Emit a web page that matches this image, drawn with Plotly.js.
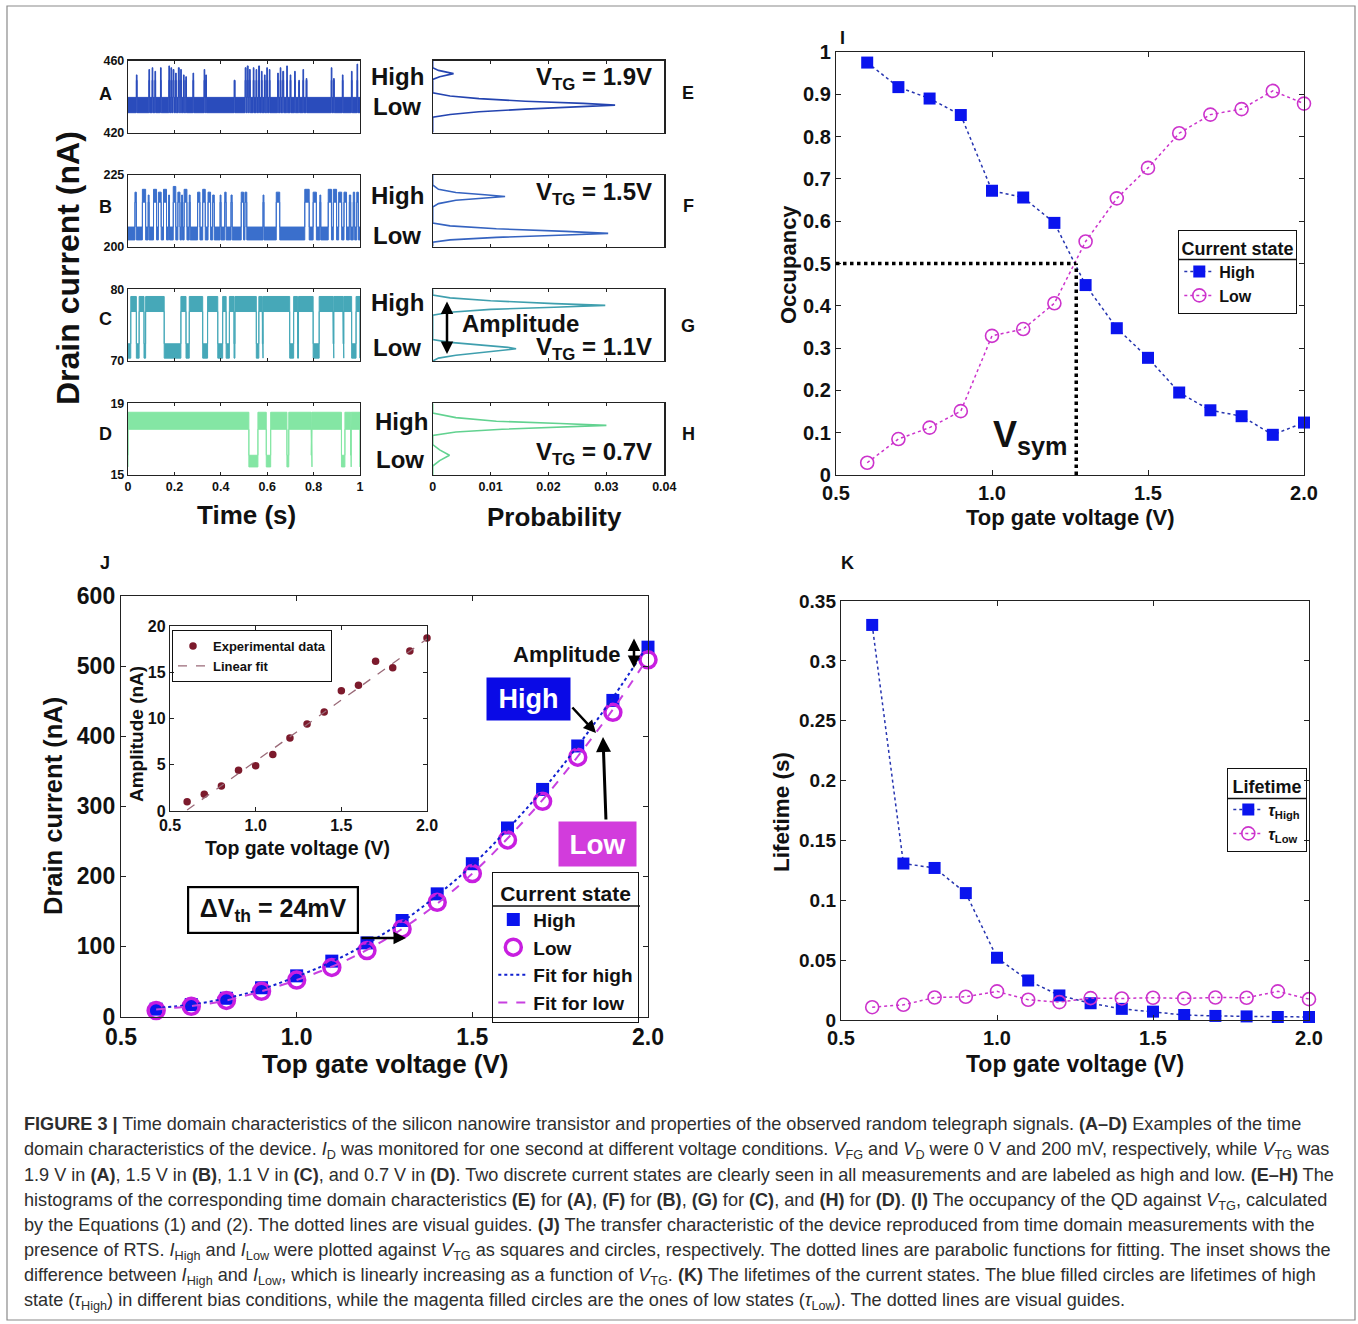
<!DOCTYPE html>
<html><head><meta charset="utf-8">
<script src="https://cdn.plot.ly/plotly-3.0.1.min.js"></script>
<style>html,body{margin:0;padding:0;background:#fff;} #chart{width:1358px;height:1324px;}</style>
</head><body><div id="chart"></div>
<script>
// ================= DATA =================
const vtg = [0.6,0.7,0.8,0.9,1.0,1.1,1.2,1.3,1.4,1.5,1.6,1.7,1.8,1.9,2.0];
// Panel I: occupancy
const occHigh = [0.975,0.917,0.890,0.851,0.672,0.656,0.596,0.449,0.347,0.277,0.195,0.153,0.139,0.095,0.124];
const occLow  = [0.029,0.085,0.112,0.151,0.329,0.345,0.406,0.552,0.654,0.726,0.808,0.852,0.865,0.908,0.878];
const vsym = 1.27;
// Panel J: drain current (nA)
const idHigh = [10.5,17,26,41,58,79,105,137,175,218,269,324,386,451,527];
const idLow  = [8.5,14.5,23,36,52,70,94,125,163,204,252,307,370,434,509];
const fitHigh = [12,17,26,39,57,78,104,135,173,216,267,323,386,455,530];
const fitLow  = [10,15,23,36,52,71,95,125,161,204,254,309,371,438,512];
// Inset: amplitude (nA)
const ampExp = [1.0,1.8,2.7,4.4,4.9,6.1,7.9,9.4,10.7,13.0,13.6,16.2,15.5,17.3,18.7];
const ampFitV = [0.6,2.0];
const ampFit  = [0.1,18.6];
// Panel K: lifetimes (s)
const tauHigh = [0.330,0.1307,0.127,0.106,0.052,0.033,0.0205,0.014,0.0093,0.007,0.0042,0.0034,0.003,0.0025,0.0025];
const tauLow  = [0.0107,0.0127,0.0188,0.0194,0.0239,0.0169,0.0149,0.0183,0.018,0.0186,0.018,0.0188,0.0186,0.0239,0.0174];

// Panels A-D: time traces, intervals spent in the high state (s)
const A_hiStart = [0.036,0.090,0.104,0.116,0.140,0.176,0.185,0.194,0.205,0.217,0.227,0.239,0.249,0.280,0.328,0.335,0.458,0.505,0.514,0.523,0.540,0.552,0.563,0.575,0.588,0.598,0.609,0.645,0.656,0.667,0.684,0.699,0.718,0.736,0.754,0.768,0.876,0.886,0.924,0.963,0.987];
const A_hiEnd   = [0.039,0.093,0.107,0.119,0.143,0.179,0.188,0.198,0.208,0.221,0.230,0.242,0.252,0.283,0.331,0.338,0.461,0.509,0.518,0.527,0.543,0.555,0.567,0.578,0.591,0.601,0.612,0.648,0.659,0.671,0.687,0.702,0.721,0.739,0.757,0.771,0.879,0.889,0.927,0.966,0.990];
const A_hiTop   = [452,455,456,454,456,457,456,455,453,456,455,452,451,453,455,452,449,456,457,455,456,455,457,454,452,456,455,453,456,454,457,452,454,448,455,450,456,450,452,454,458];
const A_lowBand = [431,439.5], A_highBand = [449,456];

const B_hiStart = [0.030,0.062,0.087,0.110,0.131,0.153,0.175,0.195,0.215,0.231,0.242,0.264,0.300,0.322,0.345,0.365,0.397,0.417,0.444,0.488,0.504,0.582,0.639,0.762,0.798,0.827,0.863,0.885,0.908,0.931,0.954,0.971,0.986];
const B_hiEnd   = [0.036,0.076,0.091,0.123,0.143,0.166,0.179,0.206,0.224,0.235,0.254,0.268,0.310,0.333,0.356,0.372,0.401,0.423,0.449,0.498,0.512,0.586,0.654,0.781,0.812,0.831,0.877,0.899,0.921,0.942,0.960,0.977,0.993];
const B_hiTop   = [219,220,218,220,219,220,218,221,219,218,220,218,219,220,219,218,218,219,218,219,219,218,219,220,219,218,220,220,219,219,218,219,219];
const B_lowBand = [202.3,206.8], B_highBand = [215.5,219];

const C_hiStart = [0.012,0.048,0.076,0.228,0.264,0.343,0.408,0.437,0.461,0.564,0.582,0.714,0.735,0.824,0.887,0.930,0.983];
const C_hiEnd   = [0.036,0.069,0.156,0.250,0.322,0.387,0.423,0.457,0.553,0.579,0.697,0.731,0.798,0.884,0.927,0.964,1.000];
const C_lowBand = [70.4,72.4], C_highBand = [76.9,79.0];

const D_hiStart = [0.000,0.560,0.615,0.693,0.793,0.935,0.962];
const D_hiEnd   = [0.521,0.596,0.685,0.790,0.920,0.960,1.000];
const D_lowBand = [15.45,16.1], D_highBand = [17.55,18.5];

// Panels E-H: histograms (current in nA, probability)
const E_current = [420,428.5,430,431.5,433,434.2,435.2,436.2,437.4,438.8,440.3,442,449.5,451,452.7,454.5,456,460];
const E_prob    = [0,0,0.003,0.008,0.016,0.026,0.0315,0.026,0.016,0.008,0.003,0,0,0.0012,0.0036,0.001,0,0];
const F_current = [200,201.5,202.3,203.2,204,204.6,205.3,206.2,207.2,208.2,213.8,215,216.2,217,217.5,218.1,218.9,220,221.5,225];
const F_prob    = [0,0,0.003,0.011,0.023,0.0303,0.023,0.011,0.003,0,0,0.001,0.004,0.009,0.0125,0.009,0.004,0.001,0,0];
const G_current = [70,70.4,70.8,71.2,71.5,71.7,71.9,72.2,72.6,73.0,76.4,76.8,77.2,77.5,77.76,78.0,78.4,78.8,79.2,80];
const G_prob    = [0,0.001,0.004,0.009,0.013,0.0144,0.013,0.008,0.003,0,0,0.003,0.010,0.021,0.0298,0.021,0.010,0.003,0,0];
const H_current = [15,15.5,15.8,16.1,16.4,16.7,17.2,17.4,17.55,17.68,17.77,17.87,18.0,18.2,18.45,19];
const H_prob    = [0,0,0.0012,0.0029,0.0012,0,0,0.004,0.012,0.023,0.030,0.022,0.011,0.004,0,0];

// ================= BUILD =================
const W = 1358, H = 1324;
const fx = p => p / W, fy = p => 1 - p / H;
const FONT = 'Liberation Sans, Arial, sans-serif';
const INK = '#111';
const bf = (s, c) => ({family: FONT, size: s, color: c || INK, weight: 'bold'});

function telegraph(starts, ends, tops, lo, hi) {
  const ux = [0], uy = [lo[1]], lx = [0], ly = [lo[0]];
  for (let i = 0; i < starts.length; i++) {
    const s = starts[i], e = ends[i], t = tops ? tops[i] : hi[1];
    ux.push(s, s, e, e); uy.push(lo[1], t, t, lo[1]);
    lx.push(s, s, e, e); ly.push(lo[0], hi[0], hi[0], lo[0]);
  }
  ux.push(1); uy.push(lo[1]); lx.push(1); ly.push(lo[0]);
  return {x: ux.concat(lx.slice().reverse()), y: uy.concat(ly.slice().reverse())};
}

const cA = '#2a4cbc', cB = '#3a6fcc', cC = '#46a8b8', cD = '#84e6a4';
const traces = [];
function addTrace(poly, color, xa, ya) {
  traces.push({type: 'scatter', mode: 'lines', x: poly.x, y: poly.y, fill: 'toself', fillcolor: color,
    line: {color: color, width: 1}, xaxis: xa, yaxis: ya, showlegend: false, hoverinfo: 'skip'});
}
addTrace(telegraph(A_hiStart, A_hiEnd, A_hiTop, A_lowBand, A_highBand), cA, 'x', 'y');
addTrace(telegraph(B_hiStart, B_hiEnd, B_hiTop, B_lowBand, B_highBand), cB, 'x2', 'y2');
addTrace(telegraph(C_hiStart, C_hiEnd, null, C_lowBand, C_highBand), cC, 'x3', 'y3');
addTrace(telegraph(D_hiStart, D_hiEnd, null, D_lowBand, D_highBand), cD, 'x4', 'y4');

function addHist(cur, prob, color, n) {
  traces.push({type: 'scatter', mode: 'lines', x: prob, y: cur, line: {color: color, width: 1.6},
    xaxis: 'x' + n, yaxis: 'y' + n, showlegend: false});
}
addHist(E_current, E_prob, '#2444b0', 5);
addHist(F_current, F_prob, '#3563c0', 6);
addHist(G_current, G_prob, '#3f9fae', 7);
addHist(H_current, H_prob, '#62d290', 8);

const BLUE = '#0a14ee', MAG = '#cc33cc', MAGJ = '#c81ee0';
// Panel I
traces.push({type: 'scatter', mode: 'lines+markers', name: 'High', x: vtg, y: occHigh, xaxis: 'x9', yaxis: 'y9',
  marker: {symbol: 'square', size: 12, color: BLUE}, line: {color: '#2634b0', width: 1.5, dash: 'dot'},
  legend: 'legend', cliponaxis: false});
traces.push({type: 'scatter', mode: 'lines+markers', name: 'Low', x: vtg, y: occLow, xaxis: 'x9', yaxis: 'y9',
  marker: {symbol: 'circle-open', size: 13, color: MAG, line: {width: 1.6}}, line: {color: MAG, width: 1.5, dash: 'dot'},
  legend: 'legend', cliponaxis: false});
// Panel J
traces.push({type: 'scatter', mode: 'markers', name: 'High', x: vtg, y: idHigh, xaxis: 'x10', yaxis: 'y10',
  marker: {symbol: 'square', size: 13, color: BLUE}, legend: 'legend2', cliponaxis: false});
traces.push({type: 'scatter', mode: 'markers', name: 'Low', x: vtg, y: idLow, xaxis: 'x10', yaxis: 'y10',
  marker: {symbol: 'circle-open', size: 16, color: MAGJ, line: {width: 3.5}}, legend: 'legend2', cliponaxis: false});
traces.push({type: 'scatter', mode: 'lines', name: 'Fit for high', x: vtg, y: fitHigh, xaxis: 'x10', yaxis: 'y10',
  line: {color: '#1020d0', width: 2, dash: 'dot', shape: 'spline'}, legend: 'legend2'});
traces.push({type: 'scatter', mode: 'lines', name: 'Fit for low', x: vtg, y: fitLow, xaxis: 'x10', yaxis: 'y10',
  line: {color: '#c840e0', width: 2, dash: 'dash', shape: 'spline'}, legend: 'legend2'});
// Inset
traces.push({type: 'scatter', mode: 'markers', name: 'Experimental data', x: vtg, y: ampExp, xaxis: 'x11', yaxis: 'y11',
  marker: {symbol: 'circle', size: 7.5, color: '#7c1a2c'}, legend: 'legend4', cliponaxis: false});
traces.push({type: 'scatter', mode: 'lines', name: 'Linear fit', x: ampFitV, y: ampFit, xaxis: 'x11', yaxis: 'y11',
  line: {color: '#9a6a78', width: 1.3, dash: 'dash'}, legend: 'legend4'});
// Panel K
traces.push({type: 'scatter', mode: 'lines+markers', name: '<i>τ</i><sub>High</sub>', x: vtg, y: tauHigh, xaxis: 'x12', yaxis: 'y12',
  marker: {symbol: 'square', size: 12, color: BLUE}, line: {color: '#2634b0', width: 1.5, dash: 'dot'},
  legend: 'legend3', cliponaxis: false});
traces.push({type: 'scatter', mode: 'lines+markers', name: '<i>τ</i><sub>Low</sub>', x: vtg, y: tauLow, xaxis: 'x12', yaxis: 'y12',
  marker: {symbol: 'circle-open', size: 13, color: MAG, line: {width: 1.6}}, line: {color: MAG, width: 1.5, dash: 'dot'},
  legend: 'legend3', cliponaxis: false});

// ---------- axes ----------
function axis(extra) {
  return Object.assign({showline: true, linecolor: '#222', linewidth: 1.2, mirror: 'ticks', ticks: 'inside',
    ticklen: 5, tickcolor: '#222', showgrid: false, zeroline: false, fixedrange: true}, extra);
}
const dx = (a, b) => [fx(a), fx(b)];
const dy = (top, bot) => [fy(bot), fy(top)];
const layout = {
  width: W, height: H, margin: {l: 0, r: 0, t: 0, b: 0, pad: 0},
  paper_bgcolor: '#fff', plot_bgcolor: '#fff', font: {family: FONT, color: INK}, hovermode: false,
  shapes: [], annotations: []
};
const trX = [128, 360], hsX = [432.7, 664.3];
const rows = [[60.5, 132.5], [175, 246.5], [289.3, 361], [403.3, 475]];
const yR = [[420, 460], [200, 225], [70, 80], [15, 19]];
for (let r = 0; r < 4; r++) {
  const n = r + 1, m = r + 5, last = r === 3;
  const xk = n === 1 ? 'xaxis' : 'xaxis' + n, yk = n === 1 ? 'yaxis' : 'yaxis' + n;
  layout[xk] = axis({domain: dx(...trX), anchor: n === 1 ? 'y' : 'y' + n, range: [0, 1],
    tickvals: [0, 0.2, 0.4, 0.6, 0.8, 1], ticktext: ['0', '0.2', '0.4', '0.6', '0.8', '1'],
    showticklabels: last, tickfont: bf(12.5), ticklen: 3});
  layout[yk] = axis({domain: dy(...rows[r]), anchor: n === 1 ? 'x' : 'x' + n, range: yR[r],
    tickvals: yR[r], ticktext: yR[r].map(String), tickfont: bf(12.5), ticks: ''});
  layout['xaxis' + m] = axis({domain: dx(...hsX), anchor: 'y' + m, range: [0, 0.04],
    tickvals: [0, 0.01, 0.02, 0.03, 0.04], ticktext: ['0', '0.01', '0.02', '0.03', '0.04'],
    showticklabels: last, tickfont: bf(12.5), ticklen: 3});
  layout['yaxis' + m] = axis({domain: dy(...rows[r]), anchor: 'x' + m, range: yR[r], showticklabels: false, ticks: ''});
}
const vTicks = {tickvals: [0.5, 1, 1.5, 2], ticktext: ['0.5', '1.0', '1.5', '2.0']};
layout.xaxis9 = axis(Object.assign({domain: dx(836, 1304), anchor: 'y9', range: [0.5, 2], tickfont: bf(20)}, vTicks));
layout.yaxis9 = axis({domain: dy(52, 475), anchor: 'x9', range: [0, 1], tickfont: bf(20),
  tickvals: [0, .1, .2, .3, .4, .5, .6, .7, .8, .9, 1], ticktext: ['0', '0.1', '0.2', '0.3', '0.4', '0.5', '0.6', '0.7', '0.8', '0.9', '1']});
layout.xaxis10 = axis(Object.assign({domain: dx(121, 648), anchor: 'y10', range: [0.5, 2], tickfont: bf(23)}, vTicks));
layout.yaxis10 = axis({domain: dy(596, 1016.5), anchor: 'x10', range: [0, 600], tickfont: bf(23),
  tickvals: [0, 100, 200, 300, 400, 500, 600]});
layout.xaxis11 = axis(Object.assign({domain: dx(170, 427), anchor: 'y11', range: [0.5, 2], tickfont: bf(16), ticklen: 4}, vTicks));
layout.yaxis11 = axis({domain: dy(626, 811), anchor: 'x11', range: [0, 20], tickfont: bf(16), ticklen: 4,
  tickvals: [0, 5, 10, 15, 20]});
layout.xaxis12 = axis(Object.assign({domain: dx(841, 1309), anchor: 'y12', range: [0.5, 2], tickfont: bf(20)}, vTicks));
layout.yaxis12 = axis({domain: dy(601, 1020), anchor: 'x12', range: [0, 0.35], tickfont: bf(19),
  tickvals: [0, .05, .1, .15, .2, .25, .3, .35], ticktext: ['0', '0.05', '0.1', '0.15', '0.2', '0.25', '0.3', '0.35']});

// ---------- legends ----------
function leg(x, y, size, title, tsize, extra) {
  return Object.assign({x: fx(x), y: fy(y), xanchor: 'left', yanchor: 'top', xref: 'paper', yref: 'paper',
    bgcolor: 'rgba(255,255,255,0)', bordercolor: '#111', borderwidth: 1.3, font: bf(size), itemwidth: 30, tracegroupgap: 0,
    traceorder: 'normal', title: title ? {text: title, side: 'top center', font: bf(tsize)} : undefined}, extra || {});
}
layout.legend = leg(1178, 230, 16, 'Current state', 18);
layout.legend2 = leg(492, 872, 19, 'Current state', 21);
layout.legend3 = leg(1227, 768, 16, 'Lifetime', 18);
layout.legend4 = leg(172, 630, 13, null, 0, {borderwidth: 1});
layout.showlegend = true;

// ---------- shapes ----------
const S = layout.shapes;
S.push({type: 'rect', xref: 'paper', yref: 'paper', x0: fx(7), x1: fx(1355), y0: fy(1320), y1: fy(6),
  line: {color: '#8a8a8a', width: 1.2}, fillcolor: 'rgba(0,0,0,0)'});
S.push({type: 'line', xref: 'x9', yref: 'y9', x0: 0.5, x1: vsym, y0: 0.5, y1: 0.5, line: {color: '#000', width: 3.5, dash: 'dot'}});
S.push({type: 'line', xref: 'x9', yref: 'y9', x0: vsym, x1: vsym, y0: 0, y1: 0.5, line: {color: '#000', width: 3.5, dash: 'dot'}});
// legend title dividers
function divider(x0, x1, y) {
  S.push({type: 'line', xref: 'paper', yref: 'paper', x0: fx(x0), x1: fx(x1), y0: fy(y), y1: fy(y), line: {color: '#111', width: 1.3}});
}
divider(1178, 1296, 259.5);
divider(1227, 1306, 798.5);
divider(492, 640, 906);

// ---------- annotations ----------
const A = layout.annotations;
function txt(x, y, text, font, extra) {
  A.push(Object.assign({xref: 'paper', yref: 'paper', x: fx(x), y: fy(y), text: text, showarrow: false,
    font: font, xanchor: 'center', yanchor: 'middle'}, extra || {}));
}
function arrow(hx, hy, tx, ty, w, both) {
  A.push({xref: 'paper', yref: 'paper', x: fx(hx), y: fy(hy), ax: tx - hx, ay: ty - hy, text: '', showarrow: true,
    arrowhead: 2, arrowsize: 1, arrowwidth: w, arrowcolor: '#000', standoff: 0, startstandoff: 0,
    arrowside: both ? 'end+start' : 'end', startarrowhead: 2, startarrowsize: 1});
}
// panel letters
[['A', 105, 94], ['B', 105, 207], ['C', 105, 319], ['D', 105, 434], ['E', 688, 93], ['F', 688, 206],
 ['G', 688, 326], ['H', 688, 434], ['I', 842, 38], ['J', 105, 563], ['K', 847, 563]]
  .forEach(p => txt(p[1], p[2], p[0], bf(18)));
// axis titles
txt(68, 268, 'Drain current (nA)', bf(32), {textangle: -90});
txt(246, 515, 'Time (s)', bf(26));
txt(554, 517, 'Probability', bf(26));
txt(1070, 517, 'Top gate voltage (V)', bf(22));
txt(788, 265, 'Occupancy', bf(22), {textangle: -90});
txt(385, 1064, 'Top gate voltage (V)', bf(26));
txt(53, 806, 'Drain current (nA)', bf(25.5), {textangle: -90});
txt(297, 848, 'Top gate voltage (V)', bf(19.5));
txt(136, 734, 'Amplitude (nA)', bf(19), {textangle: -90});
txt(1075, 1064, 'Top gate voltage (V)', bf(23));
txt(781, 812, 'Lifetime (s)', bf(22.5), {textangle: -90});
// High / Low labels
[[77, 107], [196, 236], [302, 348], [422, 459]].forEach((r, i) => {
  txt(i === 3 ? 401 : 397, r[0], 'High', bf(24));
  txt(i === 3 ? 400 : 397, r[1], 'Low', bf(24));
});
txt(594, 78, 'V<sub>TG</sub> = 1.9V', bf(24));
txt(594, 193, 'V<sub>TG</sub> = 1.5V', bf(24));
txt(594, 349, 'V<sub>TG</sub> = 1.1V', bf(24));
txt(594, 454, 'V<sub>TG</sub> = 0.7V', bf(24));
txt(520, 323, 'Amplitude', bf(24));
arrow(447, 354, 447, 300, 2.5, true);
// Panel I
txt(1030, 437, 'V<sub>sym</sub>', bf(36));
// Panel J annotations
txt(273, 910, 'ΔV<sub>th</sub> = 24mV', bf(25), {bgcolor: '#fff', bordercolor: '#000', borderwidth: 2.2, borderpad: 4, width: 160, height: 36});
arrow(406, 938, 360, 938, 2.5, false);
txt(567, 654, 'Amplitude', bf(22));
arrow(634, 668, 634, 637, 2.5, true);
txt(528, 699, 'High', bf(27, '#fff'), {bgcolor: '#0a0ae6', width: 83, height: 42, borderpad: 0});
arrow(596, 733, 571, 706, 2.5, false);
txt(597, 844, 'Low', bf(28, '#fff'), {bgcolor: '#d23cdc', width: 77, height: 44, borderpad: 0});
arrow(603, 737, 606, 821, 3, false);

// caption
const cap = [
  '<b>FIGURE 3 |</b> Time domain characteristics of the silicon nanowire transistor and properties of the observed random telegraph signals. <b>(A–D)</b> Examples of the time',
  'domain characteristics of the device. <i>I</i><sub>D</sub> was monitored for one second at different voltage conditions. <i>V</i><sub>FG</sub> and <i>V</i><sub>D</sub> were 0 V and 200 mV, respectively, while <i>V</i><sub>TG</sub> was',
  '1.9 V in <b>(A)</b>, 1.5 V in <b>(B)</b>, 1.1 V in <b>(C)</b>, and 0.7 V in <b>(D)</b>. Two discrete current states are clearly seen in all measurements and are labeled as high and low. <b>(E–H)</b> The',
  'histograms of the corresponding time domain characteristics <b>(E)</b> for <b>(A)</b>, <b>(F)</b> for <b>(B)</b>, <b>(G)</b> for <b>(C)</b>, and <b>(H)</b> for <b>(D)</b>. <b>(I)</b> The occupancy of the QD against <i>V</i><sub>TG</sub>, calculated',
  'by the Equations (1) and (2). The dotted lines are visual guides. <b>(J)</b> The transfer characteristic of the device reproduced from time domain measurements with the',
  'presence of RTS. <i>I</i><sub>High</sub> and <i>I</i><sub>Low</sub> were plotted against <i>V</i><sub>TG</sub> as squares and circles, respectively. The dotted lines are parabolic functions for fitting. The inset shows the',
  'difference between <i>I</i><sub>High</sub> and <i>I</i><sub>Low</sub>, which is linearly increasing as a function of <i>V</i><sub>TG</sub>. <b>(K)</b> The lifetimes of the current states. The blue filled circles are lifetimes of high',
  'state (<i>τ</i><sub>High</sub>) in different bias conditions, while the magenta filled circles are the ones of low states (<i>τ</i><sub>Low</sub>). The dotted lines are visual guides.'
];
const capY = [1124, 1149, 1175, 1200, 1225, 1250, 1275, 1300];
cap.forEach((t, i) => txt(22, capY[i] - 12, t, {family: FONT, size: 18.1, color: '#2e2e2e'}, {xanchor: 'left', yanchor: 'top', align: 'left'}));

Plotly.newPlot('chart', traces, layout, {displayModeBar: false, staticPlot: true});
</script>
</body></html>
